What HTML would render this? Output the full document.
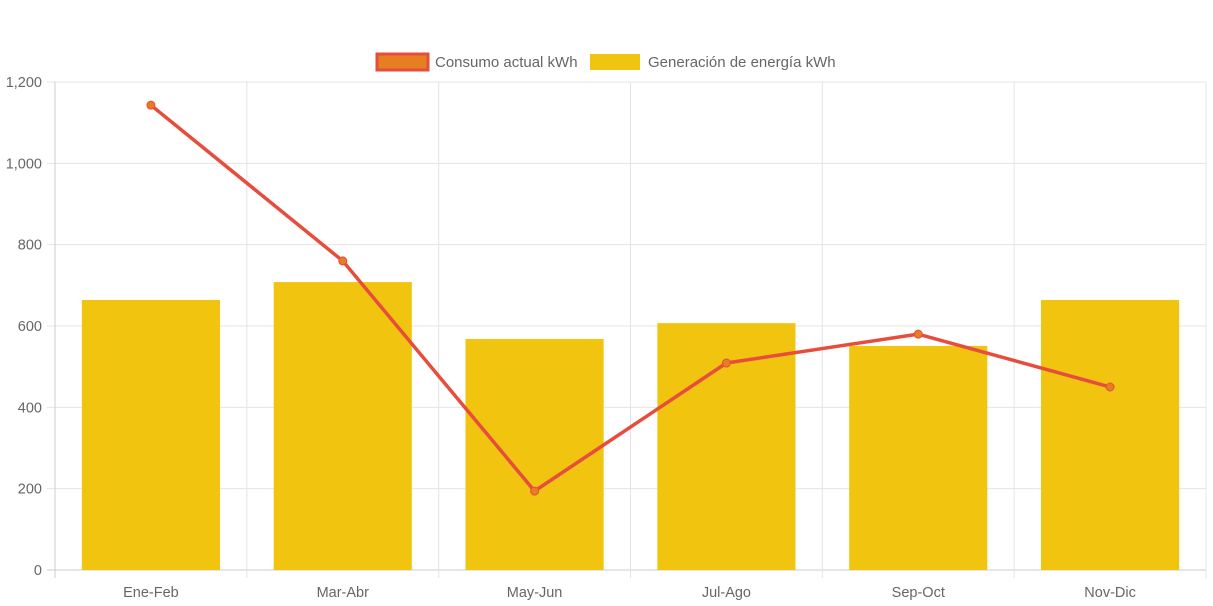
<!DOCTYPE html>
<html><head><meta charset="utf-8"><style>
html,body{margin:0;padding:0;background:#fff;}
svg{display:block;font-family:"Liberation Sans",Arial,sans-serif;}
</style></head><body>
<svg id="chart" width="1213" height="606">
<g>
  <g>
    <rect x="377" y="54" width="51" height="16" fill="#e67e22" stroke="#e74c3c" stroke-width="3"/>
    <text x="435" y="67" font-size="15" fill="#666">Consumo actual kWh</text>
  </g>
  <g>
    <rect x="590" y="54" width="50" height="16" fill="#f1c40f"/>
    <text x="648" y="67" font-size="15" fill="#666">Generación de energía kWh</text>
  </g>
</g>
<g id="grid"></g>
<g id="bars"></g>
<g id="line"></g>
</svg>
<script>
const categories = ["Ene-Feb","Mar-Abr","May-Jun","Jul-Ago","Sep-Oct","Nov-Dic"];
const generacion = [664, 708, 568, 607, 551, 664];
const consumo = [1143, 760, 194, 509, 580, 450];
const yTicks = [0,200,400,600,800,1000,1200];
const yTickLabels = ["0","200","400","600","800","1,000","1,200"];

const NS="http://www.w3.org/2000/svg";
const L=55,R=1206,T=82,B=570,YMAX=1200;
const cw=(R-L)/categories.length;
const y=v=>B-(v/YMAX)*(B-T);
const xc=i=>L+cw*(i+0.5);
function mk(tag,attrs,parent){const e=document.createElementNS(NS,tag);for(const k in attrs)e.setAttribute(k,attrs[k]);parent.appendChild(e);return e;}
const grid=document.getElementById('grid');
yTicks.forEach((t,i)=>{
  const ln=mk('line',{x1:L-8,x2:R,y1:y(t),y2:y(t),stroke:i===0?'#ccc':'#e4e4e4','stroke-width':1},grid);
  
  
  const tx=mk('text',{x:L-13,y:y(t)+5,'text-anchor':'end','font-size':14.5,fill:'#666'},grid);
  tx.textContent=yTickLabels[i];
  
  
});
for(let i=0;i<=categories.length;i++){
  const x=L+cw*i;
  const ln=mk('line',{x1:x,x2:x,y1:T,y2:B+8,stroke:i===0?'#ccc':'#e4e4e4','stroke-width':1},grid);
  
  
}
categories.forEach((c,i)=>{
  const tx=mk('text',{x:xc(i),y:597,'text-anchor':'middle','font-size':14.5,fill:'#666'},grid);
  tx.textContent=c;
  
  
});
const bars=document.getElementById('bars');
const bw=cw*0.72;
generacion.forEach((v,i)=>{
  const r=mk('rect',{x:xc(i)-bw/2,y:y(v),width:bw,height:B-y(v),fill:'#f1c40f'},bars);
  
  
});
const lg=document.getElementById('line');
const pts=consumo.map((v,i)=>xc(i)+','+y(v)).join(' ');
const pl=mk('polyline',{points:pts,fill:'none',stroke:'#e74c3c','stroke-width':3.5,'stroke-linejoin':'round'},lg);


consumo.forEach((v,i)=>{
  const c=mk('circle',{cx:xc(i),cy:y(v),r:4,fill:'#e67e22',stroke:'#e74c3c','stroke-width':1},lg);
  
  
});
</script>
</body></html>
